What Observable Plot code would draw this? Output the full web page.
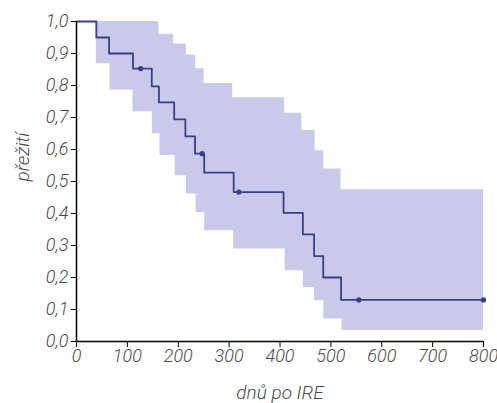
<!DOCTYPE html>
<html>
<head>
<meta charset="utf-8">
<script src="https://cdn.jsdelivr.net/npm/d3@7"></script>
<script src="https://cdn.jsdelivr.net/npm/@observablehq/plot@0.6"></script>
<style>
  html, body { margin: 0; padding: 0; background: #fff; }
  #chart svg { display: block; }
</style>
</head>
<body>
<div id="chart"></div>
<script>
// Kaplan–Meier survival estimate (step values)
const days = [0, 39, 64, 111, 148, 162, 192, 214, 233, 251, 309, 407, 445, 467, 485, 520, 800];
const survival = [1.0, 0.95, 0.90, 0.853, 0.797, 0.747, 0.694, 0.641, 0.587, 0.528, 0.467, 0.402, 0.335, 0.267, 0.200, 0.130, 0.130];

// Censored observations
const censorDays = [126, 247, 319, 555, 800];
const censorSurvival = [0.853, 0.587, 0.467, 0.130, 0.130];

// Confidence band: upper bound steps
const ciUpperDays = [0, 162, 191, 216, 234, 251, 307, 409, 443, 469, 486, 520, 800];
const ciUpper = [1.0, 0.96, 0.93, 0.895, 0.852, 0.806, 0.762, 0.713, 0.659, 0.596, 0.539, 0.474, 0.474];

// Confidence band: lower bound steps
const ciLowerDays = [0, 39, 66, 111, 149, 164, 194, 216, 235, 252, 309, 410, 446, 468, 486, 522, 800];
const ciLower = [1.0, 0.868, 0.786, 0.718, 0.649, 0.581, 0.518, 0.461, 0.403, 0.346, 0.289, 0.221, 0.169, 0.127, 0.070, 0.034, 0.034];

// Tick labels
const xTicks = [0, 100, 200, 300, 400, 500, 600, 700, 800];
const yTicks = [0, 0.1, 0.2, 0.3, 0.4, 0.5, 0.6, 0.7, 0.8, 0.9, 1.0];
const xLabel = "dnů po IRE";
const yLabel = "přežití";

// Build tables
const km = days.map((d, i) => ({day: d, s: survival[i]}));
const censored = censorDays.map((d, i) => ({day: d, s: censorSurvival[i]}));
function stepValue(ds, vs, t) {
  let v = vs[0];
  for (let i = 0; i < ds.length; i++) if (ds[i] <= t) v = vs[i];
  return v;
}
const bandDays = Array.from(new Set([...ciUpperDays, ...ciLowerDays])).sort((a, b) => a - b);
const band = bandDays.map(d => ({
  day: d,
  lo: stepValue(ciLowerDays, ciLower, d),
  hi: stepValue(ciUpperDays, ciUpper, d)
}));

const fmt = d => d.toFixed(1).replace(".", ",");
const lineColor = "#3d3d8c";
const bandColor = "#c9c9ea";
const tickColor = "#4a4a4a";

const chart = Plot.plot({
  width: 497,
  height: 403,
  marginLeft: 76,
  marginRight: 14,
  marginTop: 21,
  marginBottom: 62,
  style: {
    fontFamily: "Roboto, sans-serif",
    fontStyle: "italic",
    fontWeight: 300,
    fontSize: "17px",
    background: "#fff"
  },
  x: {domain: [0, 800]},
  y: {domain: [0, 1]},
  marks: [
    Plot.areaY(band, {x: "day", y1: "lo", y2: "hi", curve: "step-after", fill: bandColor}),
    Plot.line(km, {x: "day", y: "s", curve: "step-after", stroke: lineColor, strokeWidth: 1.8}),
    Plot.dot(censored, {x: "day", y: "s", r: 2.6, fill: lineColor, stroke: "none"}),
    Plot.axisX({ticks: xTicks, tickSize: 6, tickPadding: 2, label: null, stroke: "#000", color: tickColor, fontSize: 18}),
    Plot.axisY({ticks: yTicks, tickSize: 5, tickPadding: 3, tickFormat: fmt, label: null, stroke: "#000", color: tickColor, fontSize: 18}),
    Plot.ruleX([0], {stroke: "#000", strokeWidth: 1.5}),
    Plot.ruleY([0], {stroke: "#000", strokeWidth: 1.5}),
    Plot.text([xLabel], {frameAnchor: "bottom", dy: 51, fill: tickColor, fontSize: 19, lineAnchor: "middle"}),
    Plot.text([yLabel], {frameAnchor: "left", dx: -54, rotate: -90, fill: tickColor, fontSize: 19, lineAnchor: "middle"})
  ]
});
document.getElementById("chart").appendChild(chart);
</script>
</body>
</html>
